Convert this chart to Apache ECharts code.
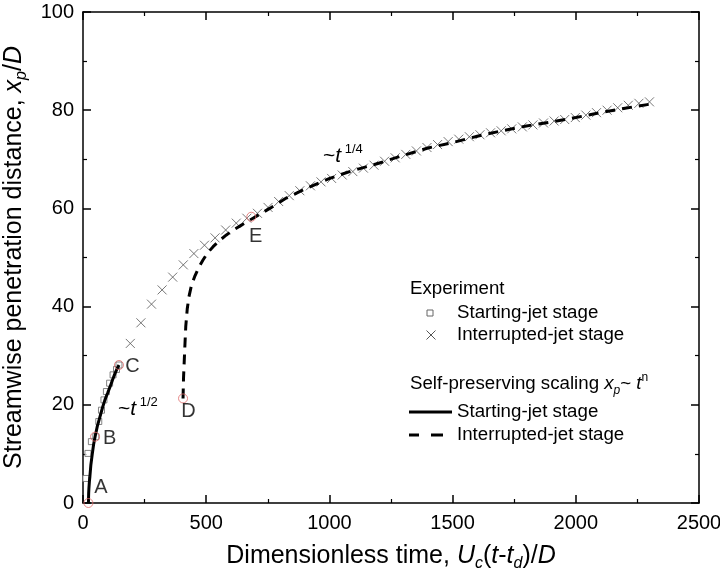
<!DOCTYPE html>
<html><head><meta charset="utf-8">
<script src="https://cdn.jsdelivr.net/npm/echarts@6/dist/echarts.min.js"></script>
<style>html,body{margin:0;padding:0;background:#fff}#c{width:720px;height:581px}</style>
</head><body><div id="c"></div>
<script>
// ---- data ----
const xTicks = [0, 500, 1000, 1500, 2000, 2500];
const yTicks = [0, 20, 40, 60, 80, 100];

const startTimes  = [11, 20, 34, 52, 64, 75, 85, 95, 108, 122, 136, 146];
const startValues = [5.0, 10.1, 12.5, 13.5, 16.6, 18.9, 21.0, 22.7, 24.4, 26.1, 27.2, 28.1];

const interTimes  = [192, 235, 278, 321, 364, 407, 450, 493, 536, 579, 622, 665, 708, 751, 794, 837, 880, 923, 966, 1009,
                     1052, 1095, 1138, 1181, 1224, 1267, 1310, 1353, 1396, 1439, 1482, 1525, 1568, 1611, 1654, 1697, 1740, 1783, 1826, 1869,
                     1912, 1955, 1998, 2041, 2084, 2127, 2170, 2213, 2256, 2299];
const interValues = [32.5, 36.7, 40.5, 43.4, 46.0, 48.5, 50.8, 52.5, 54.0, 55.6, 57.0, 58.0, 59.0, 60.2, 61.4, 62.6, 63.6, 64.6, 65.4, 66.1,
                     66.8, 67.5, 68.2, 68.8, 69.6, 70.3, 71.0, 71.7, 72.4, 73.0, 73.6, 74.1, 74.6, 75.0, 75.4, 75.8, 76.2, 76.6, 77.0, 77.4,
                     77.8, 78.1, 78.5, 79.0, 79.5, 80.0, 80.5, 81.0, 81.4, 81.7];

const solidTimes  = [22, 23, 24, 26, 28, 32, 38, 43, 49, 58, 69, 79, 89, 100, 110, 120, 130, 138, 146];
const solidValues = [0, 2.0, 3.0, 4.4, 5.4, 7.8, 10.1, 11.9, 13.5, 15.6, 17.6, 19.4, 21.0, 22.4, 23.7, 25.1, 26.4, 27.3, 28.1];

const dashedTimes  = [406, 407, 408, 410, 413, 417, 423, 430, 440, 453, 470, 487, 505, 528, 555, 582, 610, 643, 690, 758, 825, 907,
                      1001, 1082, 1200, 1300, 1400, 1500, 1600, 1700, 1800, 1900, 2000, 2100, 2200, 2310];
const dashedValues = [21.3, 23.5, 25.5, 27.8, 31.5, 35.9, 39.5, 42.0, 44.3, 46.1, 48.0, 49.5, 50.9, 52.2, 53.5, 54.6, 55.6, 56.6, 58.0, 60.0, 62.1, 64.1,
                      66.1, 67.5, 69.2, 70.8, 72.3, 73.4, 74.7, 75.8, 76.8, 77.6, 78.5, 79.5, 80.4, 81.3];

const pointLabels = ['A', 'B', 'C', 'D', 'E'];
const pointTimes  = [22, 49, 146, 406, 683];
const pointValues = [0, 13.5, 28.1, 21.3, 58.3];

// ---- chart ----
const FONT = '"Liberation Sans", Arial, sans-serif';
const chart = echarts.init(document.getElementById('c'), null, {renderer: 'canvas'});
const zip = (a, b) => a.map((v, i) => [v, b[i]]);
const labelOffsets = [[13, -15], [15, 2], [14, 2], [6, 14], [5, 20]];
const MARK = 9;

const txt = {fontFamily: FONT, color: '#000'};
const richBase = (fs) => ({
  n: Object.assign({}, txt, {fontSize: fs, lineHeight: fs + 6}),
  i: Object.assign({}, txt, {fontSize: fs, fontStyle: 'italic', lineHeight: fs + 6}),
  sub: Object.assign({}, txt, {fontSize: Math.round(fs * 0.62), fontStyle: 'italic', lineHeight: Math.round(fs * 0.62), verticalAlign: 'bottom'}),
  sup: Object.assign({}, txt, {fontSize: Math.round(fs * 0.62), lineHeight: Math.round(fs * 0.62) + 2, verticalAlign: 'top'})
});

const axisCommon = {
  axisLine: {show: true, onZero: false, lineStyle: {color: '#000', width: 1.5}},
  axisTick: {show: true, inside: true, length: 8, lineStyle: {color: '#000', width: 1.5}},
  minorTick: {show: true, splitNumber: 2, length: 4, lineStyle: {color: '#000', width: 1.2}},
  splitLine: {show: false},
  axisLabel: {show: true, fontSize: 20, fontFamily: FONT, color: '#000', formatter: (v) => String(v)}
};

const option = {
  backgroundColor: '#fff',
  animation: false,
  grid: {left: 83, right: 21, top: 12, bottom: 78, containLabel: false, outerBoundsMode: 'none'},
  xAxis: [
    Object.assign({}, axisCommon, {
      type: 'value', position: 'bottom', min: xTicks[0], max: xTicks[xTicks.length - 1], interval: xTicks[1] - xTicks[0],
      axisLabel: Object.assign({}, axisCommon.axisLabel, {margin: 10}),
      name: '{n|Dimensionless time, }{i|U}{sub|c}{n|(}{i|t}{n|-}{i|t}{sub|d}{n|)/}{i|D}',
      nameLocation: 'middle', nameGap: 38,
      nameTextStyle: {rich: richBase(25)}
    }),
    Object.assign({}, axisCommon, {
      type: 'value', position: 'top', min: xTicks[0], max: xTicks[xTicks.length - 1], interval: xTicks[1] - xTicks[0],
      axisLabel: {show: false}
    })
  ],
  yAxis: [
    Object.assign({}, axisCommon, {
      type: 'value', position: 'left', min: yTicks[0], max: yTicks[yTicks.length - 1], interval: yTicks[1] - yTicks[0],
      axisLabel: Object.assign({}, axisCommon.axisLabel, {margin: 9}),
      name: '{n|Streamwise penetration distance, }{i|x}{sub|p}{n|/}{i|D}',
      nameLocation: 'middle', nameGap: 50, nameRotate: 90,
      nameTextStyle: {rich: richBase(25)}
    }),
    Object.assign({}, axisCommon, {
      type: 'value', position: 'right', min: yTicks[0], max: yTicks[yTicks.length - 1], interval: yTicks[1] - yTicks[0],
      axisLabel: {show: false}
    })
  ],
  series: [
    {
      type: 'scatter', name: 'Interrupted-jet stage', data: zip(interTimes, interValues),
      symbol: 'path://M0,0L10,10M10,0L0,10', symbolSize: 9,
      itemStyle: {color: 'rgba(0,0,0,0)', borderColor: '#555', borderWidth: 1}, z: 2
    },
    {
      type: 'scatter', name: 'Starting-jet stage', data: zip(startTimes, startValues),
      symbol: 'rect', symbolSize: 6,
      itemStyle: {color: '#fff', borderColor: '#666', borderWidth: 1}, z: 2
    },
    {
      type: 'line', data: zip(solidTimes, solidValues), showSymbol: false, smooth: false,
      lineStyle: {color: '#000', width: 3}, z: 3
    },
    {
      type: 'line', data: zip(dashedTimes, dashedValues), showSymbol: false, smooth: false,
      lineStyle: {color: '#000', width: 3, type: [10, 7]}, z: 3
    },
    {
      type: 'scatter', z: 4,
      data: pointTimes.map((t, i) => ({
        value: [t, pointValues[i]], name: pointLabels[i],
        label: {show: true, formatter: pointLabels[i],
                position: [MARK / 2 + labelOffsets[i][0], MARK / 2 + labelOffsets[i][1]],
                align: 'center', verticalAlign: 'middle',
                fontSize: 20, fontFamily: FONT, color: '#000', textBorderWidth: 0}
      })),
      symbol: 'circle', symbolSize: MARK,
      itemStyle: {color: 'rgba(255,255,255,0)', borderColor: '#e06a6a', borderWidth: 1}
    }
  ],
  graphic: [
    // annotations
    {type: 'text', x: 118, y: 409, style: {text: '{n|~}{i|t}{sup| 1/2}', verticalAlign: 'middle', rich: richBase(21)}},
    {type: 'text', x: 323, y: 156, style: {text: '{n|~}{i|t}{sup| 1/4}', verticalAlign: 'middle', rich: richBase(21)}},
    // legend
    {type: 'text', x: 410, y: 289, style: {text: 'Experiment', fontSize: 18.7, fontFamily: FONT, fill: '#000', verticalAlign: 'middle'}},
    {type: 'rect', shape: {x: 427, y: 310, width: 6, height: 6}, style: {fill: '#fff', stroke: '#666', lineWidth: 1}},
    {type: 'text', x: 457, y: 313, style: {text: 'Starting-jet stage', fontSize: 18.7, fontFamily: FONT, fill: '#000', verticalAlign: 'middle'}},
    {type: 'polyline', shape: {points: [[426.5, 330.5], [435.5, 339.5]]}, style: {stroke: '#555', lineWidth: 1}},
    {type: 'polyline', shape: {points: [[435.5, 330.5], [426.5, 339.5]]}, style: {stroke: '#555', lineWidth: 1}},
    {type: 'text', x: 457, y: 335, style: {text: 'Interrupted-jet stage', fontSize: 18.7, fontFamily: FONT, fill: '#000', verticalAlign: 'middle'}},
    {type: 'text', x: 410, y: 384, style: {text: '{n|Self-preserving scaling }{i|x}{sub|p}{n|~ }{i|t}{sup|n}', verticalAlign: 'middle', rich: richBase(18.7)}},
    {type: 'line', shape: {x1: 409, y1: 412, x2: 452, y2: 412}, style: {stroke: '#000', lineWidth: 3}},
    {type: 'text', x: 457, y: 412, style: {text: 'Starting-jet stage', fontSize: 18.7, fontFamily: FONT, fill: '#000', verticalAlign: 'middle'}},
    {type: 'line', shape: {x1: 409, y1: 435, x2: 419, y2: 435}, style: {stroke: '#000', lineWidth: 3}},
    {type: 'line', shape: {x1: 431, y1: 435, x2: 443, y2: 435}, style: {stroke: '#000', lineWidth: 3}},
    {type: 'text', x: 457, y: 435, style: {text: 'Interrupted-jet stage', fontSize: 18.7, fontFamily: FONT, fill: '#000', verticalAlign: 'middle'}}
  ]
};
chart.setOption(option);
</script>
</body></html>
